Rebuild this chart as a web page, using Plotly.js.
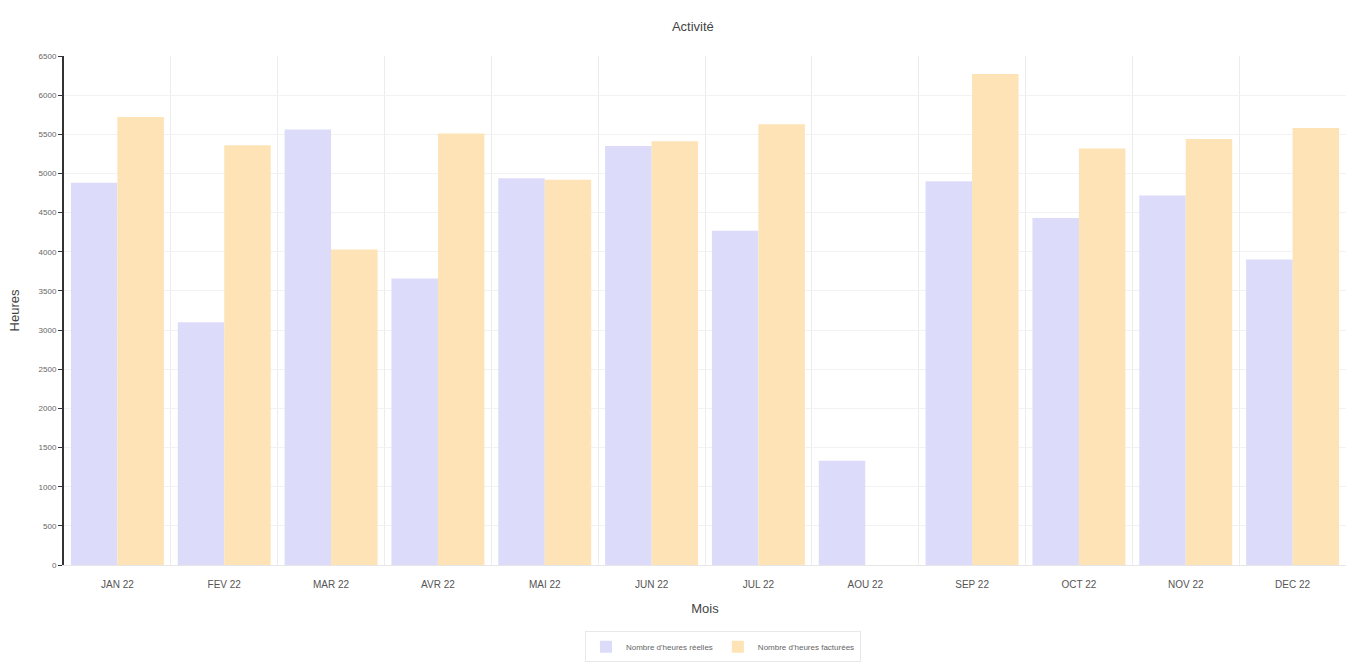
<!DOCTYPE html>
<html>
<head>
<meta charset="utf-8">
<script src="https://cdn.plot.ly/plotly-3.0.1.min.js"></script>
<style>html,body{margin:0;padding:0;background:#fff;}#chart{width:1348px;height:669px;}</style>
</head>
<body>
<div id="chart"></div>
<script>
const months = ["JAN 22","FEV 22","MAR 22","AVR 22","MAI 22","JUN 22","JUL 22","AOU 22","SEP 22","OCT 22","NOV 22","DEC 22"];
const heuresReelles = [4880, 3100, 5560, 3660, 4940, 5350, 4270, 1330, 4900, 4430, 4720, 3900];
const heuresFacturees = [5720, 5360, 4030, 5510, 4920, 5410, 5630, 0, 6270, 5320, 5440, 5580];
const yTicks = [0,500,1000,1500,2000,2500,3000,3500,4000,4500,5000,5500,6000,6500];

const traces = [
  {
    type: "bar", name: "Nombre d'heures réelles", x: months, y: heuresReelles,
    marker: {color: "#dcdcfa", line: {width: 0}}
  },
  {
    type: "bar", name: "Nombre d'heures facturées", x: months, y: heuresFacturees,
    marker: {color: "#fde3b6", line: {width: 0}}
  }
];

const layout = {
  width: 1348, height: 669,
  margin: {l: 64, r: 2, t: 56, b: 104},
  paper_bgcolor: "#fff", plot_bgcolor: "#fff",
  font: {family: "Liberation Sans, Arial, sans-serif", color: "#555"},
  title: {text: "Activité", x: 0.514, xanchor: "center", y: 0.96, yanchor: "middle",
          font: {size: 13, color: "#444", family: "Liberation Sans Narrow, Liberation Sans, sans-serif"}},
  barmode: "group", bargap: 0.13, bargroupgap: 0,
  xaxis: {
    type: "category", tickson: "boundaries", showgrid: true, gridcolor: "#ececec",
    ticks: "", ticklabelstandoff: 10,
    tickfont: {size: 10, color: "#555", family: "Liberation Sans Narrow, sans-serif"},
    title: {text: "Mois", font: {size: 13, color: "#444", family: "Liberation Sans Narrow, sans-serif"}, standoff: 14},
    showline: true, linecolor: "#e6e6e6", linewidth: 1
  },
  yaxis: {
    range: [0, 6500], tickvals: yTicks, ticktext: yTicks.map(String),
    showgrid: true, gridcolor: "#f2f2f2",
    showline: true, linecolor: "#333", linewidth: 2,
    ticks: "outside", ticklen: 4, tickcolor: "#333",
    tickfont: {size: 8, color: "#666", family: "Liberation Sans Narrow, sans-serif"},
    title: {text: "Heures", font: {size: 13, color: "#444", family: "Liberation Sans Narrow, sans-serif"}, standoff: 16},
    zeroline: false
  },
  showlegend: true,
  legend: {
    orientation: "h", x: 0.514, xanchor: "center", y: -0.13, yanchor: "top",
    bordercolor: "#e8e8e8", borderwidth: 1, bgcolor: "#fff",
    font: {size: 8, color: "#666"}
  }
};

Plotly.newPlot("chart", traces, layout, {displayModeBar: false, responsive: false});
</script>
</body>
</html>
